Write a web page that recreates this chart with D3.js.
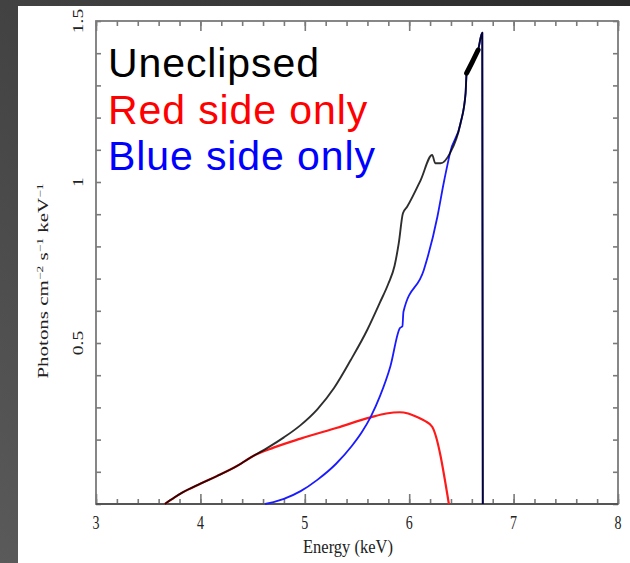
<!DOCTYPE html>
<html><head><meta charset="utf-8">
<script src="https://cdn.jsdelivr.net/npm/d3@7"></script>
<style>html,body{margin:0;padding:0;overflow:hidden;background:#444}</style>
</head><body>
<svg id="chart" width="630" height="563"></svg>
<script>
// Line spectra: [energy keV, photons cm^-2 s^-1 keV^-1]
const uneclipsed = [
  [3.66,0],[3.75,0.02],[3.83,0.036],[4.0,0.063],[4.16,0.087],[4.35,0.118],[4.51,0.150],
  [4.65,0.176],[4.80,0.207],[4.96,0.245],[5.12,0.294],[5.28,0.360],[5.44,0.447],
  [5.60,0.542],[5.72,0.626],[5.80,0.684],[5.86,0.740],[5.90,0.81],[5.94,0.903],[5.98,0.923],
  [6.11,1.006],[6.22,1.084],[6.25,1.058],[6.30,1.058],[6.39,1.089],[6.49,1.18],
  [6.54,1.275],[6.55,1.338],[6.60,1.37],[6.66,1.41],[6.70,1.464],[6.705,0]
];
const redSide = [
  [3.66,0],[3.75,0.02],[3.83,0.036],[4.0,0.063],[4.16,0.087],[4.35,0.118],[4.51,0.150],
  [4.70,0.175],[4.96,0.203],[5.31,0.237],[5.63,0.269],[5.78,0.281],[5.91,0.285],
  [5.99,0.281],[6.07,0.271],[6.15,0.258],[6.22,0.240],[6.38,0]
];
const blueSide = [
  [4.62,0],[4.70,0.006],[4.80,0.016],[4.96,0.040],[5.12,0.075],[5.30,0.125],
  [5.45,0.180],[5.55,0.225],[5.63,0.270],[5.72,0.335],[5.82,0.428],[5.91,0.546],
  [5.935,0.552],[5.945,0.597],[6.14,0.727],[6.27,0.892],[6.33,0.996],[6.38,1.074],
  [6.39,1.089],[6.49,1.18],[6.54,1.275],[6.55,1.338],[6.60,1.37],[6.66,1.41],
  [6.70,1.464],[6.705,0]
];
const xMajorTicks = [3,4,5,6,7,8];
const xMinorTicks = d3.range(3, 8.0001, 0.2);
const yTicks = d3.range(0, 1.5001, 0.1);
const yLabelTicks = [0.5, 1, 1.5];
const legendItems = [
  {label: "Uneclipsed", color: "#000000"},
  {label: "Red side only", color: "#ff0000"},
  {label: "Blue side only", color: "#0000ff"}
];

const svg = d3.select("#chart");
const W = 630, H = 563;
const m = {left: 96, top: 21, right: 618, bottom: 504};

// slide backdrop and white panel
const defs = svg.append("defs");
const g = defs.append("linearGradient").attr("id","bg").attr("x1","0").attr("y1","1").attr("x2","1").attr("y2","0");
g.append("stop").attr("offset","0").attr("stop-color","#5a5a5a");
g.append("stop").attr("offset","1").attr("stop-color","#2a2a2a");
svg.append("rect").attr("width",W).attr("height",H).attr("fill","url(#bg)");
svg.append("rect").attr("x",18).attr("y",6).attr("width",W-18).attr("height",H-6).attr("fill","#fff");

const x = d3.scaleLinear().domain([3,8]).range([m.left, m.right]);
const y = d3.scaleLinear().domain([0,1.5]).range([m.bottom, m.top]);

const axisColor = "#7a7a7a";
function styleAxis(sel){
  sel.select(".domain").remove();
  sel.selectAll(".tick line").attr("stroke", axisColor).attr("stroke-width", 1.6);
}
// bottom / top minor + major ticks (inward)
[[d3.axisBottom, m.bottom],[d3.axisTop, m.top]].forEach(([ax, pos]) => {
  svg.append("g").attr("transform",`translate(0,${pos})`)
    .call(ax(x).tickValues(xMinorTicks).tickSize(-5).tickFormat(""))
    .call(styleAxis);
  svg.append("g").attr("transform",`translate(0,${pos})`)
    .call(ax(x).tickValues(xMajorTicks).tickSize(-10).tickFormat(""))
    .call(styleAxis);
});
[[d3.axisLeft, m.left],[d3.axisRight, m.right]].forEach(([ax, pos]) => {
  svg.append("g").attr("transform",`translate(${pos},0)`)
    .call(ax(y).tickValues(yTicks).tickSize(-5).tickFormat(""))
    .call(styleAxis);
});
// frame
svg.append("rect").attr("x",m.left).attr("y",m.top)
  .attr("width",m.right-m.left).attr("height",m.bottom-m.top)
  .attr("fill","none").attr("stroke",axisColor).attr("stroke-width",1.8);
svg.append("line").attr("x1",m.left).attr("x2",m.right).attr("y1",m.bottom).attr("y2",m.bottom)
  .attr("stroke","#555").attr("stroke-width",2);

const serif = "'Liberation Serif','Times New Roman',serif";
// x tick labels (tall, narrow lettering)
svg.append("g").selectAll("text").data(xMajorTicks).join("text")
  .attr("transform", d => `translate(${x(d)},529) scale(1,1.4)`)
  .attr("text-anchor","middle").attr("font-family",serif).attr("font-size",14)
  .attr("fill","#222").text(d => d);
svg.append("text").attr("transform","translate(348,553) scale(1.18,1.35)")
  .attr("text-anchor","middle").attr("font-family",serif).attr("font-size",14)
  .attr("fill","#222").text("Energy (keV)");
// y tick labels (rotated)
svg.append("g").selectAll("text").data(yLabelTicks).join("text")
  .attr("transform", d => `translate(83,${y(d)}) rotate(-90) scale(1.4,1)`)
  .attr("text-anchor","middle").attr("font-family",serif).attr("font-size",14)
  .attr("fill","#222").text(d => d);
// y title
const yt = svg.append("text").attr("transform","translate(48,281) rotate(-90) scale(1.5,1)")
  .attr("text-anchor","middle").attr("font-family",serif).attr("font-size",14).attr("fill","#222");
yt.append("tspan").text("Photons cm");
yt.append("tspan").attr("baseline-shift","super").attr("font-size",9).text("−2");
yt.append("tspan").text(" s");
yt.append("tspan").attr("baseline-shift","super").attr("font-size",9).text("−1");
yt.append("tspan").text(" keV");
yt.append("tspan").attr("baseline-shift","super").attr("font-size",9).text("−1");

// spectra
const line = d3.line().x(d => x(d[0])).y(d => y(d[1])).curve(d3.curveMonotoneX);
const plot = svg.append("g");
plot.append("path").datum(redSide).attr("d", line)
  .attr("fill","none").attr("stroke","#ff1a1a").attr("stroke-width",2.2).attr("stroke-linejoin","round");
plot.append("path").datum(blueSide).attr("d", line)
  .attr("fill","none").attr("stroke","#1a1aff").attr("stroke-width",1.8).attr("stroke-linejoin","round");
plot.append("path").datum(uneclipsed).attr("d", line)
  .attr("fill","none").attr("stroke","#000").attr("stroke-opacity",0.82)
  .attr("stroke-width",1.9).attr("stroke-linejoin","round");
// noisy high-flux stretch of the unobscured line drawn heavier
plot.append("path").datum(uneclipsed.filter(d => d[0] >= 6.55 && d[0] <= 6.66)).attr("d", line)
  .attr("fill","none").attr("stroke","#000").attr("stroke-width",5).attr("stroke-linecap","round");

// legend
const sans = "'Liberation Sans',Arial,sans-serif";
const leg = svg.append("g");
leg.selectAll("text").data(legendItems).join("text")
  .attr("x",108).attr("y",(d,i) => 77 + i*46.5)
  .attr("font-family",sans).attr("font-size",41).attr("letter-spacing",0.9)
  .attr("fill", d => d.color).text(d => d.label);
</script>
</body></html>
